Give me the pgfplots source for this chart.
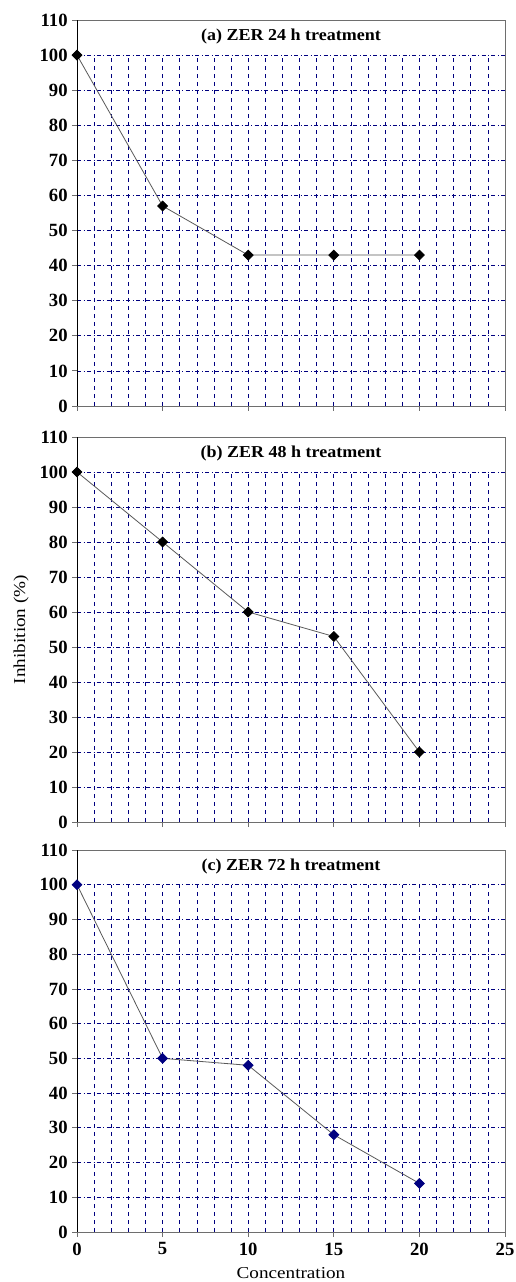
\documentclass[border=0pt]{standalone}
\usepackage{fontspec}
\setmainfont{Liberation Serif}
\usepackage{graphicx}
\usepackage{pgfplots}
\pgfplotsset{compat=1.18}
\definecolor{gridnavy}{HTML}{000080}
\definecolor{framegray}{HTML}{6E6E6E}

\newcommand{\lbl}[1]{\scalebox{1.15}[1]{\fontsize{12.5}{14}\selectfont #1}}
\newcommand{\ttl}[1]{\scalebox{1.08}[1]{\fontsize{12.5}{14}\selectfont\bfseries #1}}

\tikzset{vgrid/.style={gridnavy,dashed,line width=0.5pt}}

\pgfplotsset{
  zerpanel/.style={
    scale only axis,
    width=321pt,
    xmin=0,xmax=25,
    ymin=0,ymax=110,
    xtick={0,5,...,25},
    ytick={0,10,...,110},
    xtick pos=bottom,
    ytick pos=left,
    tick align=outside,
    major tick length=3.5pt,
    ymajorgrids,
    major y grid style={gridnavy,dash dot,line width=0.5pt},
    axis line style={framegray,line width=0.6pt},
    tick style={framegray,line width=0.6pt},
    tick label style={font=\fontsize{14}{16}\selectfont\bfseries},
    /pgf/number format/assume math mode=true,
    xticklabel style={yshift=-1pt},
    clip=false,
  },
  zerline/.style={black!65,line width=0.6pt,mark=square*,mark size=2.6pt},
}

\begin{document}
\begin{tikzpicture}
\useasboundingbox (0,0) rectangle (386.25pt,961.5pt);

% (a)
\begin{axis}[zerpanel,height=289.5pt,anchor=south west,at={(57.75pt,657pt)},xticklabels={}]
\pgfplotsinvokeforeach{1,...,24}{\draw[vgrid] (axis cs:#1,0) -- (axis cs:#1,100);}
\addplot[zerline,mark options={black,fill=black,rotate=45}] coordinates {(0,100) (5,57) (10,43) (15,43) (20,43)};
\draw[black,line width=0.7pt] (axis cs:0,0) -- (axis cs:0,110);
\node at (rel axis cs:0.5,0.958) {\ttl{(a) ZER 24 h treatment}};
\end{axis}

% (b)
\begin{axis}[zerpanel,height=288.75pt,anchor=south west,at={(57.75pt,345pt)},xticklabels={}]
\pgfplotsinvokeforeach{1,...,24}{\draw[vgrid] (axis cs:#1,0) -- (axis cs:#1,100);}
\addplot[zerline,mark options={black,fill=black,rotate=45}] coordinates {(0,100) (5,80) (10,60) (15,53) (20,20)};
\draw[black,line width=0.7pt] (axis cs:0,0) -- (axis cs:0,110);
\node at (rel axis cs:0.5,0.958) {\ttl{(b) ZER 48 h treatment}};
\node[rotate=90] at ([xshift=-42pt]rel axis cs:0,0.5) {\lbl{Inhibition (\%)}};
\end{axis}

% (c)
\begin{axis}[zerpanel,height=286.5pt,anchor=south west,at={(57.75pt,37.5pt)}]
\pgfplotsinvokeforeach{1,...,24}{\draw[vgrid] (axis cs:#1,0) -- (axis cs:#1,100);}
\addplot[zerline,mark options={gridnavy,fill=gridnavy,rotate=45}] coordinates {(0,100) (5,50) (10,48) (15,28) (20,14)};
\draw[black,line width=0.7pt] (axis cs:0,0) -- (axis cs:0,110);
\node at (rel axis cs:0.5,0.958) {\ttl{(c) ZER 72 h treatment}};
\node at ([yshift=-31pt]rel axis cs:0.5,0) {\lbl{Concentration}};
\end{axis}
\end{tikzpicture}
\end{document}
